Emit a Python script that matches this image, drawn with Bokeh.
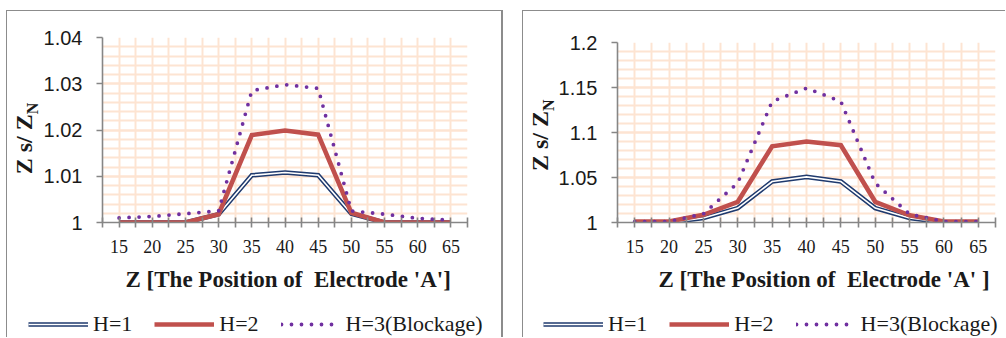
import numpy as np
from bokeh.plotting import figure
from bokeh.models import (Range1d, FixedTicker, Label, Legend, LegendItem,
                          NumeralTickFormatter, Title)
from bokeh.layouts import row, column
from bokeh.embed import file_html
from bokeh.resources import INLINE

# ---------------- data ----------------
z_pos = [15, 20, 25, 30, 35, 40, 45, 50, 55, 60, 65]

left_h1 = [1.0, 1.0, 1.0, 1.0018, 1.0102, 1.0108, 1.0102, 1.0019, 1.0, 1.0, 1.0]
left_h2 = [1.0, 1.0, 1.0, 1.0018, 1.0189, 1.0199, 1.019, 1.0021, 1.0, 1.0, 1.0]
left_h3 = [1.001, 1.0013, 1.0019, 1.0025, 1.0285, 1.0298, 1.029, 1.0025, 1.0018, 1.0009, 1.0005]

right_h1 = [1.0, 1.0, 1.005, 1.016, 1.0455, 1.0507, 1.0455, 1.016, 1.005, 1.0, 1.0]
right_h2 = [1.001, 1.001, 1.0085, 1.023, 1.0847, 1.09, 1.0858, 1.023, 1.008, 1.001, 1.001]
right_h3 = [1.001, 1.001, 1.0096, 1.044, 1.1345, 1.1493, 1.1345, 1.0437, 1.0093, 1.001, 1.001]

left_y_ticks = [1.0, 1.01, 1.02, 1.03, 1.04]
left_y_labels = ["1", "1.01", "1.02", "1.03", "1.04"]
right_y_ticks = [1.0, 1.05, 1.1, 1.15, 1.2]
right_y_labels = ["1", "1.05", "1.1", "1.15", "1.2"]

series_names = ["H=1", "H=2", "H=3(Blockage)"]
x_title_left = "Z [The Position of \u00a0Electrode 'A']"
x_title_right = "Z [The Position of \u00a0Electrode 'A' ]"
y_title_main = "Z s/ Z"
y_title_sub = "N"

# ---------------- style ----------------
NAVY = "#1f3a6e"
RED = "#c0504d"
PURPLE = "#7030a0"
GRID = "#fde4d2"
AXIS = "#868686"
FRAME = "#8c8c8c"
TXT = "#1a1a1a"
H_MAIN = 294
H_LEG = 32


def plain_fig(w, h, y0=0):
    return figure(width=w, height=h, x_range=Range1d(0, w), y_range=Range1d(y0, y0 + h),
                  min_border=0, x_axis_type=None, y_axis_type=None,
                  outline_line_color=None, toolbar_location=None,
                  output_backend="svg", background_fill_color="white",
                  border_fill_color="white")


def line_styles(p, xs, h1, h2, h3):
    r1a = p.line(xs, h1, line_color=NAVY, line_width=4.6, line_join="miter")
    r1b = p.line(xs, h1, line_color="white", line_width=1.6, line_join="miter")
    r2 = p.line(xs, h2, line_color=RED, line_width=4.6, line_join="miter")
    r3 = p.line(xs, h3, line_color=PURPLE, line_width=3.8,
                line_dash="0 10", line_cap="round")
    return r1a, r1b, r2, r3


def build(h1, h2, h3, y_ticks, y_labels, y_minor_step, ylab_w, main_w,
          mb_left, mb_right, mb_top, ylab_y, title_offset, x_title,
          legend_x, margin, styles):
    # --- y title strip ---
    ylab = plain_fig(ylab_w, H_MAIN)
    ylab.add_layout(Label(x=16.5, y=ylab_y, text=y_title_main, angle=np.pi / 2,
                          text_align="right", text_baseline="middle",
                          text_font="Liberation Serif", text_font_style="bold",
                          text_font_size="24px", text_color=TXT))
    ylab.add_layout(Label(x=24.5, y=ylab_y, text=y_title_sub, angle=np.pi / 2,
                          text_align="left", text_baseline="middle",
                          text_font="Liberation Serif", text_font_style="bold",
                          text_font_size="16px", text_color=TXT))

    # --- main chart ---
    step = (z_pos[1] - z_pos[0]) / 2.0
    x_minor = sorted(set([z - step for z in z_pos] + [z + step for z in z_pos]))
    p = figure(width=main_w, height=H_MAIN,
               x_range=Range1d(z_pos[0] - step, z_pos[-1] + step),
               y_range=Range1d(y_ticks[0], y_ticks[-1]),
               output_backend="svg", toolbar_location=None,
               min_border_left=mb_left, min_border_right=mb_right,
               min_border_top=mb_top, min_border_bottom=83,
               background_fill_color="white", border_fill_color="white",
               outline_line_color=None)

    y_minor = list(np.round(np.arange(y_ticks[0], y_ticks[-1] + y_minor_step / 2,
                                      y_minor_step), 5))
    p.xaxis.ticker = FixedTicker(ticks=z_pos, minor_ticks=x_minor)
    p.yaxis.ticker = FixedTicker(ticks=y_ticks, minor_ticks=y_minor)
    p.yaxis.formatter = NumeralTickFormatter(format="0.[00]")
    p.yaxis.major_label_overrides = {t: l for t, l in zip(y_ticks, y_labels)}

    for ax in (p.xaxis, p.yaxis):
        ax.axis_line_color = AXIS
        ax.axis_line_width = 1.6
        ax.major_tick_line_color = AXIS
        ax.major_tick_line_width = 1.6
        ax.minor_tick_line_color = AXIS
        ax.minor_tick_line_width = 1.6
    p.yaxis.major_tick_in = 0
    p.yaxis.major_tick_out = 6
    p.yaxis.minor_tick_line_color = None
    p.yaxis.major_label_text_font = "Liberation Sans"
    p.yaxis.major_label_text_font_size = "20px"
    p.yaxis.major_label_text_color = TXT
    p.yaxis.major_label_standoff = 14

    p.xaxis.major_tick_in = 5
    p.xaxis.major_tick_out = 5
    p.xaxis.minor_tick_in = 5
    p.xaxis.minor_tick_out = 5
    p.xaxis.major_label_text_font = "Liberation Serif"
    p.xaxis.major_label_text_font_size = "18px"
    p.xaxis.major_label_text_color = TXT
    p.xaxis.major_label_standoff = 12

    for g in (p.xgrid, p.ygrid):
        g.grid_line_color = GRID
        g.grid_line_width = 2
        g.minor_grid_line_color = GRID
        g.minor_grid_line_width = 2

    line_styles(p, z_pos, h1, h2, h3)

    p.add_layout(Title(text=x_title, align="left", offset=title_offset, standoff=19,
                       text_font="Liberation Serif", text_font_style="bold",
                       text_font_size="23px", text_color=TXT), "below")

    # --- legend strip: key lines share the chart's styles and data; the strip's
    # y range lies away from the data so only the legend keys show ---
    lf = plain_fig(ylab_w + main_w, H_LEG, y0=-100)
    k1a, k1b, k2, k3 = line_styles(lf, z_pos, h1, h2, h3)
    legend = Legend(items=[LegendItem(label=series_names[0], renderers=[k1a, k1b]),
                           LegendItem(label=series_names[1], renderers=[k2]),
                           LegendItem(label=series_names[2], renderers=[k3])],
                    location=(legend_x, 0),
                    orientation="horizontal", glyph_width=60, glyph_height=20,
                    label_standoff=5, spacing=22, padding=0, margin=0,
                    border_line_color=None, background_fill_alpha=0,
                    label_text_font="Liberation Serif",
                    label_text_font_size="22px", label_text_color=TXT)
    lf.add_layout(legend)

    return column(row(ylab, p), lf, margin=margin, styles=styles)


chart_l = build(left_h1, left_h2, left_h3, left_y_ticks, left_y_labels, 0.002,
                ylab_w=33, main_w=461, mb_left=62, mb_right=34, mb_top=26,
                ylab_y=172, title_offset=23, x_title=x_title_left, legend_x=21,
                margin=(10, 0, 0, 6),
                styles={"border-top": "1px solid " + FRAME,
                        "border-left": "1px solid " + FRAME,
                        "border-right": "2px solid " + FRAME})
chart_r = build(right_h1, right_h2, right_h3, right_y_ticks, right_y_labels, 0.01,
                ylab_w=32, main_w=450, mb_left=61, mb_right=10, mb_top=31,
                ylab_y=182, title_offset=41, x_title=x_title_right, legend_x=20,
                margin=(10, 0, 0, 19),
                styles={"border-top": "1px solid " + FRAME,
                        "border-left": "1px solid " + FRAME})

layout = row(chart_l, chart_r)
open("out.html", "w").write(file_html(layout, INLINE))
